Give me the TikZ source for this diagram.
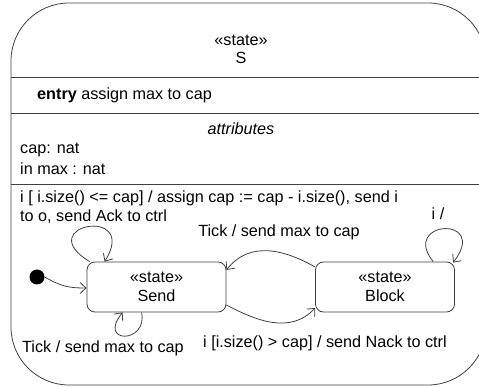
\documentclass[tikz,border=0pt]{standalone}
\usepackage{fontspec}
\setmainfont{Liberation Sans}
\usetikzlibrary{arrows.meta,calc}
\begin{document}
\begin{tikzpicture}[x=1pt,y=-1pt,
  font=\fontsize{16.2}{18.5}\selectfont,
  edgecol/.style={draw=black!75, line width=0.8pt},
  statebox/.style={edgecol, rounded corners=8pt, minimum width=139pt, minimum height=50pt, align=center, inner sep=0pt},
  tr/.style={edgecol, -{Straight Barb[length=6pt,width=11pt]}},
  lbl/.style={inner sep=0pt}
]
\useasboundingbox (0,0) rectangle (479,387);
% composite state outline and compartments
\draw[edgecol] (11,3) [rounded corners=58pt] rectangle (486,385);
\draw[edgecol] (11,77) -- (479,77);
\draw[edgecol] (11,113) -- (479,113);
\draw[edgecol] (11,184) -- (479,184);
\node[lbl] (st) at (241,40) {«state»};
\node[lbl] (sname) at (241,58) {S};
\node[lbl, anchor=west] (entry) at (37,95) {\textbf{entry} assign max to cap};
\node[lbl] (attr) at (241,129) {\textit{attributes}};
\node[lbl, anchor=west] (a1) at (20,150) {cap: nat};
\node[lbl, anchor=west] (a2) at (20,169) {in max : nat};
% substates
\node[statebox] (send) at (156.5,287) {«state»\\Send};
\node[statebox] (block) at (385,287) {«state»\\Block};
\node[circle, fill=black, inner sep=0pt, minimum size=15pt] (initn) at (37,277) {};
% transitions
\draw[tr] (initn.east) .. controls (62,287) and (70,288) .. (send.west |- 0,288);
\draw[tr] ($(send.north west)+(3,0)$) .. controls (30,225) and (140,205) .. ($(send.north west)+(18,0)$);
\draw[tr] ($(send.south west)+(55,0)$) .. controls (148,344) and (97,344) .. ($(send.south west)+(36,0)$);
\draw[tr] ($(send.east)+(0,18)$) .. controls (255,320) and (290,335) .. ($(block.west)+(0,21)$);
\draw[tr] ($(block.west)+(0,-20)$) .. controls (285,250) and (250,240) .. ($(send.east)+(0,-17)$);
\draw[tr] ($(block.north west)+(118,0)$) .. controls (400,220) and (490,215) .. ($(block.north west)+(138,1)$);
% transition labels
\node[lbl, anchor=west, align=left] (l1) at (20,207) {i [ i.size() <= cap] / assign cap := cap - i.size(), send i\\to o, send Ack to ctrl};
\node[lbl] (l2) at (438,214) {i /};
\node[lbl] (l3) at (279,232) {Tick / send max to cap};
\node[lbl, anchor=west] (l4) at (22,348) {Tick / send max to cap};
\node[lbl, anchor=west] (l5) at (203,343) {i [i.size() > cap] / send Nack to ctrl};
\end{tikzpicture}
\end{document}
